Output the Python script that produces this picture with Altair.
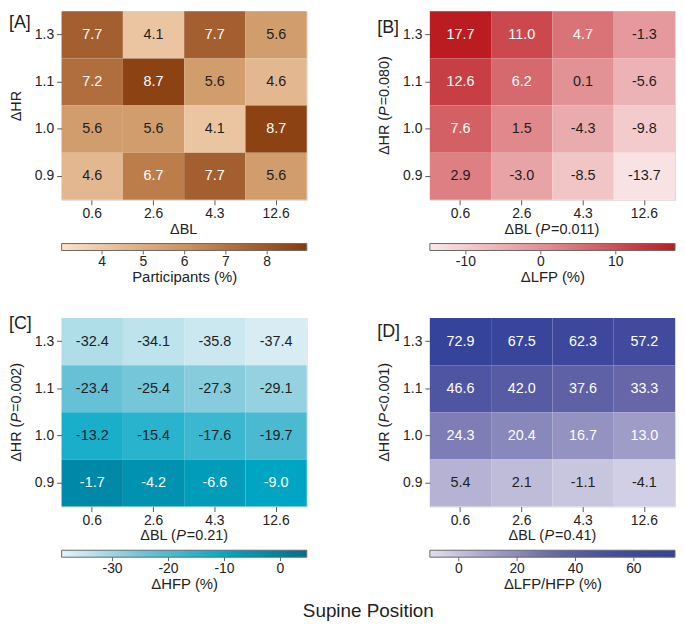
import altair as alt
import pandas as pd

FONT = "Liberation Sans"

# ---------------- data ----------------
BL = ["0.6", "2.6", "4.3", "12.6"]
HR = ["1.3", "1.1", "1.0", "0.9"]

A_VALS = [[7.7, 4.1, 7.7, 5.6],
          [7.2, 8.7, 5.6, 4.6],
          [5.6, 5.6, 4.1, 8.7],
          [4.6, 6.7, 7.7, 5.6]]
B_VALS = [[17.7, 11.0, 4.7, -1.3],
          [12.6, 6.2, 0.1, -5.6],
          [7.6, 1.5, -4.3, -9.8],
          [2.9, -3.0, -8.5, -13.7]]
C_VALS = [[-32.4, -34.1, -35.8, -37.4],
          [-23.4, -25.4, -27.3, -29.1],
          [-13.2, -15.4, -17.6, -19.7],
          [-1.7, -4.2, -6.6, -9.0]]
D_VALS = [[72.9, 67.5, 62.3, 57.2],
          [46.6, 42.0, 37.6, 33.3],
          [24.3, 20.4, 16.7, 13.0],
          [5.4, 2.1, -1.1, -4.1]]

A_DOMAIN = [3.02, 8.96]
B_DOMAIN = [-14.8, 17.9]
C_DOMAIN = [-39.1, 4.7]
D_DOMAIN = [-9.9, 74.1]

A_TICKS = [4, 5, 6, 7, 8]
B_TICKS = [-10, 0, 10]
C_TICKS = [-30, -20, -10, 0]
D_TICKS = [0, 20, 40, 60]

A_COLORS = ["#fde2c8", "#cc925f", "#873a0d"]
B_COLORS = ["#fbe9ea", "#e0888c", "#bb1b21"]
C_COLORS = ["#e6f3f7", "#6fc3d7", "#00a9c6", "#006e8e"]
D_COLORS = ["#e2e0ef", "#a4a1ca", "#6868aa", "#444c9e", "#34429a"]

# ---------------- layout ----------------
W, H = 247, 190
TITLE_FS = 14.5
TEXT_DARK = "#222222"

CHAR_W = {"Δ": 667, "B": 667, "L": 556, "H": 722, "R": 722, " ": 278, "(": 333,
          ")": 333, "=": 584, "<": 584, ".": 278, "P": 667}
for d in "0123456789":
    CHAR_W[d] = 556


def text_width(s, fs):
    return sum(CHAR_W.get(c, 556) for c in s) / 1000.0 * fs


def dummy():
    return alt.Chart(alt.Data(values=[{"k": 1}]))


def title_parts(parts, horizontal, center, line):
    """parts: list of (text, italic)"""
    total = sum(text_width(t, TITLE_FS) for t, _ in parts) + 1.0
    layers = []
    cum = 0.0
    for t, it in parts:
        kw = dict(align="left", baseline="middle", font=FONT, fontSize=TITLE_FS,
                  color=TEXT_DARK)
        if it:
            kw["fontStyle"] = "italic"
        if horizontal:
            x = center - total / 2 + cum
            m = dummy().mark_text(**kw).encode(x=alt.value(x), y=alt.value(line),
                                                 text=alt.value(t))
        else:
            y = center + total / 2 - cum
            m = dummy().mark_text(angle=270, **kw).encode(x=alt.value(line), y=alt.value(y),
                                                            text=alt.value(t))
        layers.append(m)
        cum += text_width(t, TITLE_FS) + (1.0 if it else 0.0)
    return layers


def fmt(v):
    return f"{v:.1f}"


AXIS_KW = dict(labelFont=FONT, labelFontSize=14, labelColor=TEXT_DARK,
               tickColor="#5a5a5a", tickSize=5, domain=False, grid=False)


def panel(vals, domain, colors, ticks, legend_title, thr, letter, letter_y, xparts, yparts):
    rows = []
    for i, h in enumerate(HR):
        for j, b in enumerate(BL):
            rows.append({"bl": b, "hr": h, "v": vals[i][j], "lab": fmt(vals[i][j])})
    df = pd.DataFrame(rows)
    base = alt.Chart(df)
    rect = base.mark_rect().encode(
        x=alt.X("bl:O", sort=BL, title=None,
                axis=alt.Axis(labelAngle=0, labelPadding=2, **AXIS_KW)),
        y=alt.Y("hr:O", sort=HR, title=None, axis=alt.Axis(labelPadding=3, **AXIS_KW)),
        color=alt.Color("v:Q",
                        scale=alt.Scale(domain=domain, range=colors, interpolate="rgb",
                                        nice=False, zero=False),
                        legend=alt.Legend(
                            title=legend_title, orient="none", legendX=0, legendY=H + 44,
                            direction="horizontal", gradientLength=W, gradientThickness=7,
                            gradientStrokeColor="#6a6a6a", gradientStrokeWidth=1,
                            titleOrient="bottom", titleAnchor="middle",
                            titleFont=FONT, titleFontSize=15, titleFontWeight="normal",
                            titleColor=TEXT_DARK, titlePadding=1,
                            labelFont=FONT, labelFontSize=14, labelColor=TEXT_DARK,
                            labelOffset=5, labelOverlap=False, values=ticks, padding=0,
                            labelExpr="replace(datum.label, '\u2212', '-')")),
    )
    text = base.mark_text(font=FONT, fontSize=14.5).encode(
        x=alt.X("bl:O", sort=BL, axis=None),
        y=alt.Y("hr:O", sort=HR),
        text="lab:N",
        color=alt.condition(f"datum.v > {thr}", alt.value("#ffffff"), alt.value("#1e1e1e")),
    )
    tick_df = pd.DataFrame({"t": ticks})
    tk = alt.Chart(tick_df).mark_rule(color="#6a6a6a", strokeWidth=1).encode(
        x=alt.X("t:Q", scale=alt.Scale(domain=domain, nice=False, zero=False), axis=None),
        y=alt.value(H + 44 + 7),
        y2=alt.value(H + 44 + 11),
    )
    lab = dummy().mark_text(align="left", baseline="middle", font=FONT, fontSize=18,
                            color=TEXT_DARK).encode(
        x=alt.value(-53), y=alt.value(letter_y), text=alt.value(letter))
    layers = [rect, text, tk, lab]
    layers += title_parts(xparts, True, W / 2, H + 30)
    layers += title_parts(yparts, False, H / 2, -45)
    return alt.layer(*layers).resolve_scale(x="independent").properties(width=W, height=H)


pA = panel(A_VALS, A_DOMAIN, A_COLORS, A_TICKS, "Participants (%)", 6.0, "[A]", 12,
           [("ΔBL", False)], [("ΔHR", False)])
pB = panel(B_VALS, B_DOMAIN, B_COLORS, B_TICKS, "ΔLFP (%)", 4.0, "[B]", 17,
           [("ΔBL (", False), ("P", True), ("=0.011)", False)],
           [("ΔHR (", False), ("P", True), ("=0.080)", False)])
pC = panel(C_VALS, C_DOMAIN, C_COLORS, C_TICKS, "ΔHFP (%)", -11.0, "[C]", 6,
           [("ΔBL (", False), ("P", True), ("=0.21)", False)],
           [("ΔHR (", False), ("P", True), ("=0.002)", False)])
pD = panel(D_VALS, D_DOMAIN, D_COLORS, D_TICKS, "ΔLFP/HFP (%)", 10.0, "[D]", 14,
           [("ΔBL (", False), ("P", True), ("=0.41)", False)],
           [("ΔHR (", False), ("P", True), ("<0.001)", False)])

row1 = alt.hconcat(pA, pB, spacing=68).resolve_scale(color="independent").resolve_legend(color="independent")
row2 = alt.hconcat(pC, pD, spacing=68).resolve_scale(color="independent").resolve_legend(color="independent")

chart = alt.vconcat(row1, row2, spacing=28).resolve_scale(color="independent").resolve_legend(
    color="independent").properties(
    title=alt.TitleParams("Supine Position", orient="bottom", anchor="middle", fontSize=19,
                          font=FONT, fontWeight="normal", color=TEXT_DARK, offset=10, dx=26),
    padding=0,
).configure_view(stroke="#5a5a5a", strokeWidth=1).configure_axis(
    labelFont=FONT, labelFontSize=14, labelColor=TEXT_DARK, tickColor="#5a5a5a", tickSize=5,
    domain=False, grid=False,
).configure(background="white")

chart.save("out.html", embed_options={"renderer": "svg", "actions": False})
